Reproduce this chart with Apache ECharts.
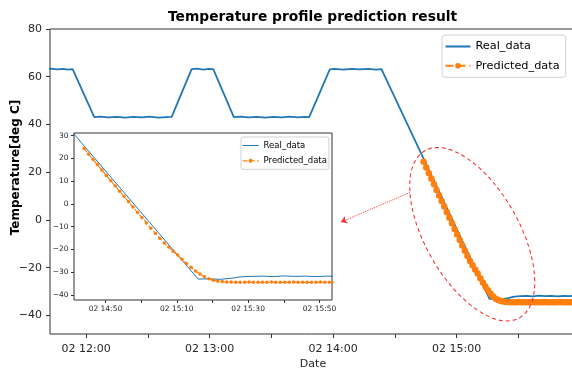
<!DOCTYPE html>
<html>
<head>
<meta charset="utf-8">
<script src="https://cdn.jsdelivr.net/npm/echarts@6/dist/echarts.min.js"></script>
<style>
  html, body { margin: 0; padding: 0; background: #fff; }
  #chart { width: 572px; height: 369px; }
</style>
</head>
<body>
<div id="chart"></div>
<script>
// time is in minutes since 00:00 of day 02
var realTime = [700, 703, 706, 709, 711, 713.5, 724, 727, 731, 735, 739, 743, 747, 751, 755, 759, 761.6,
  771.3, 774, 777, 779.5, 781.8, 791.8, 795, 799, 803, 807, 811, 815, 819, 823, 826, 828.4,
  838.4, 841, 845, 849, 853, 857, 861, 863.5, 916, 919, 922, 925, 928, 931, 934, 937, 940,
  943, 946, 949, 952, 955, 958];
var realTemp = [63.2, 63.4, 63.1, 63.3, 63.0, 63.2, 43.1, 43.3, 43.0, 43.2, 42.9, 43.2, 43.0, 43.3, 42.9, 43.1, 43.2,
  63.2, 63.4, 63.0, 63.3, 63.2, 43.1, 43.3, 43.0, 43.2, 42.9, 43.2, 43.0, 43.3, 43.0, 43.2, 43.1,
  63.1, 63.3, 63.0, 63.3, 63.1, 63.3, 63.0, 63.2, -33.1, -33.0, -33.2, -32.8, -32.1, -31.9, -31.8, -32.0, -31.7,
  -31.9, -31.8, -32.0, -31.8, -31.9, -31.8];

var predTime = [884, 885.25, 886.5, 887.75, 889, 890.25, 891.5, 892.75, 894, 895.25, 896.5, 897.75,
  899, 900.25, 901.5, 902.75, 904, 905.25, 906.5, 907.75, 909, 910.25, 911.5, 912.75, 914, 915.25,
  916.5, 917.75, 919, 920.25, 921.5, 922.75, 924, 925.25, 926.5, 927.75, 929, 930.25, 931.5, 932.75,
  934, 935.25, 936.5, 937.75, 939, 940.25, 941.5, 942.75, 944, 945.25, 946.5, 947.75, 949, 950.25,
  951.5, 952.75, 954, 955.25, 956.5, 957.75];
var predTemp = [24.4, 22.0, 19.6, 17.3, 14.9, 12.5, 10.2, 7.9, 5.6, 3.2, 0.9, -1.4,
  -3.8, -6.1, -8.4, -10.7, -12.9, -15.1, -17.2, -19.0, -20.8, -22.5, -24.4, -26.2, -27.9, -29.5,
  -30.9, -32.1, -33.0, -33.6, -34.0, -34.2, -34.4, -34.4, -34.5, -34.5, -34.5, -34.4, -34.5, -34.5,
  -34.5, -34.5, -34.4, -34.5, -34.5, -34.5, -34.5, -34.4, -34.5, -34.5, -34.5, -34.5, -34.5, -34.4,
  -34.5, -34.5, -34.5, -34.5, -34.4, -34.5];

var mainTicks = [720, 750, 780, 810, 840, 870, 900, 930];
var mainLabels = [720, 780, 840, 900];
var mainYTicks = [-40, -20, 0, 20, 40, 60, 80];
var insetTicks = [890, 900, 910, 920, 930, 940, 950];
var insetLabels = [890, 910, 930, 950];
var insetYTicks = [-40, -30, -20, -10, 0, 10, 20, 30];

// annotation anchors (main axes data coords)
var zoomCenter = [907.6, -6];
var arrowFrom = [877.3, 11.5];
var arrowTo = [843.8, -0.9];

var realData = realTime.map(function (t, i) { return [t, realTemp[i]]; });
var predData = predTime.map(function (t, i) { return [t, predTemp[i]]; });

function pad(n) { return (n < 10 ? '0' : '') + n; }
function fmtTime(v) {
  var m = Math.round(v);
  return '02 ' + pad(Math.floor(m / 60)) + ':' + pad(m % 60);
}
function fmtNum(v) { return v < 0 ? '\u2212' + (-v) : String(v); }

var font = 'DejaVu Sans';
var blue = '#1f77b4', orange = '#ff7f0e';

var chart = echarts.init(document.getElementById('chart'));

var option = {
  animation: false,
  title: {
    text: 'Temperature profile prediction result',
    left: 163, top: 5,
    textStyle: { fontFamily: font, fontSize: 13.8, fontWeight: 'bold', color: '#000' }
  },
  legend: [{
    data: [
      { name: 'Real_data', itemStyle: { opacity: 0 } },
      { name: 'Predicted_data' }
    ],
    orient: 'vertical', left: 442, top: 35,
    itemWidth: 25, itemHeight: 7, itemGap: 8.3,
    padding: [6, 6, 6, 2.5],
    backgroundColor: '#fff', borderColor: '#d0d0d0', borderWidth: 1, borderRadius: 3,
    textStyle: { fontFamily: font, fontSize: 11.3, color: '#000' }
  }, {
    data: [
      { name: 'Real_data', itemStyle: { opacity: 0 }, lineStyle: { width: 1 } },
      { name: 'Predicted_data', lineStyle: { width: 1.2, type: 'dashed' } }
    ],
    orient: 'vertical', left: 241, top: 137,
    itemWidth: 16, itemHeight: 5, itemGap: 6.3,
    padding: [4, 2, 4, 1],
    backgroundColor: '#fff', borderColor: '#d0d0d0', borderWidth: 1, borderRadius: 2,
    textStyle: { fontFamily: font, fontSize: 8.5, color: '#000' }
  }],
  grid: [
    { left: 50, top: 29, right: -4, bottom: 35, outerBoundsMode: 'none',
      show: true, borderColor: '#333', borderWidth: 1 },
    { left: 74, top: 133, width: 258, height: 167, outerBoundsMode: 'none',
      show: true, backgroundColor: '#fff', borderColor: '#333', borderWidth: 1 }
  ],
  xAxis: [{
    type: 'value', gridIndex: 0, min: 702.5, max: 958,
    name: 'Date', nameLocation: 'middle', nameGap: 25, nameMoveOverlap: false,
    nameTextStyle: { fontFamily: font, fontSize: 11, color: '#262626' },
    axisLine: { show: false, onZero: false }, splitLine: { show: false },
    axisTick: { length: 4, customValues: mainTicks, lineStyle: { color: '#333' } },
    axisLabel: { customValues: mainLabels, formatter: fmtTime, margin: 10,
      fontFamily: font, fontSize: 11, color: '#262626' }
  }, {
    type: 'value', gridIndex: 1, min: 881.2, max: 953.5,
    axisLine: { show: false, onZero: false }, splitLine: { show: false },
    axisTick: { length: 3, customValues: insetTicks, lineStyle: { color: '#333' } },
    axisLabel: { customValues: insetLabels, formatter: fmtTime, margin: 5,
      fontFamily: font, fontSize: 7.5, color: '#262626' }
  }],
  yAxis: [{
    type: 'value', gridIndex: 0, min: -47.8, max: 80,
    name: 'Temperature[deg C]', nameLocation: 'middle', nameGap: 28, nameMoveOverlap: false,
    nameTextStyle: { fontFamily: font, fontSize: 12, fontWeight: 'bold', color: '#000', padding: [0, 0, 0, 28] },
    axisLine: { show: false, onZero: false }, splitLine: { show: false },
    axisTick: { length: 4, customValues: mainYTicks, lineStyle: { color: '#333' } },
    axisLabel: { customValues: mainYTicks, formatter: fmtNum, margin: 8,
      fontFamily: font, fontSize: 11, color: '#262626' }
  }, {
    type: 'value', gridIndex: 1, min: -42.3, max: 31.2,
    axisLine: { show: false, onZero: false }, splitLine: { show: false },
    axisTick: { length: 3, customValues: insetYTicks, lineStyle: { color: '#333' } },
    axisLabel: { customValues: insetYTicks, formatter: fmtNum, margin: 5.5,
      fontFamily: font, fontSize: 7.5, color: '#262626' }
  }],
  series: [{
    name: 'Real_data', type: 'line', xAxisIndex: 0, yAxisIndex: 0,
    data: realData, symbol: 'none',
    lineStyle: { color: blue, width: 1.8 }, itemStyle: { color: blue }
  }, {
    name: 'Predicted_data', type: 'line', xAxisIndex: 0, yAxisIndex: 0,
    data: predData, symbol: 'circle', symbolSize: 6.5,
    lineStyle: { color: orange, width: 2, type: 'dashed' }, itemStyle: { color: orange },
    markLine: {
      silent: true, symbol: ['none', 'arrow'], symbolSize: 6,
      label: { show: false },
      lineStyle: { color: '#ff3030', width: 1, type: 'dotted' },
      data: [[{ coord: arrowFrom }, { coord: arrowTo }]]
    }
  }, {
    name: 'Real_data', type: 'line', xAxisIndex: 1, yAxisIndex: 1,
    data: realData, symbol: 'none',
    lineStyle: { color: blue, width: 1 }, itemStyle: { color: blue }
  }, {
    name: 'Predicted_data', type: 'line', xAxisIndex: 1, yAxisIndex: 1,
    data: predData, symbol: 'circle', symbolSize: 3.5,
    lineStyle: { color: orange, width: 1.2, type: 'dashed' }, itemStyle: { color: orange }
  }]
};

chart.setOption(option);

// dashed ellipse around the zoomed region
var c = chart.convertToPixel({ gridIndex: 0 }, zoomCenter);
chart.setOption({
  graphic: [{
    type: 'ellipse', x: c[0], y: c[1], rotation: 0.515, z: 10,
    shape: { cx: 0, cy: 0, rx: 47, ry: 96 },
    style: { fill: 'none', stroke: '#f22', lineWidth: 1, lineDash: [4, 3] }
  }]
});
</script>
</body>
</html>
